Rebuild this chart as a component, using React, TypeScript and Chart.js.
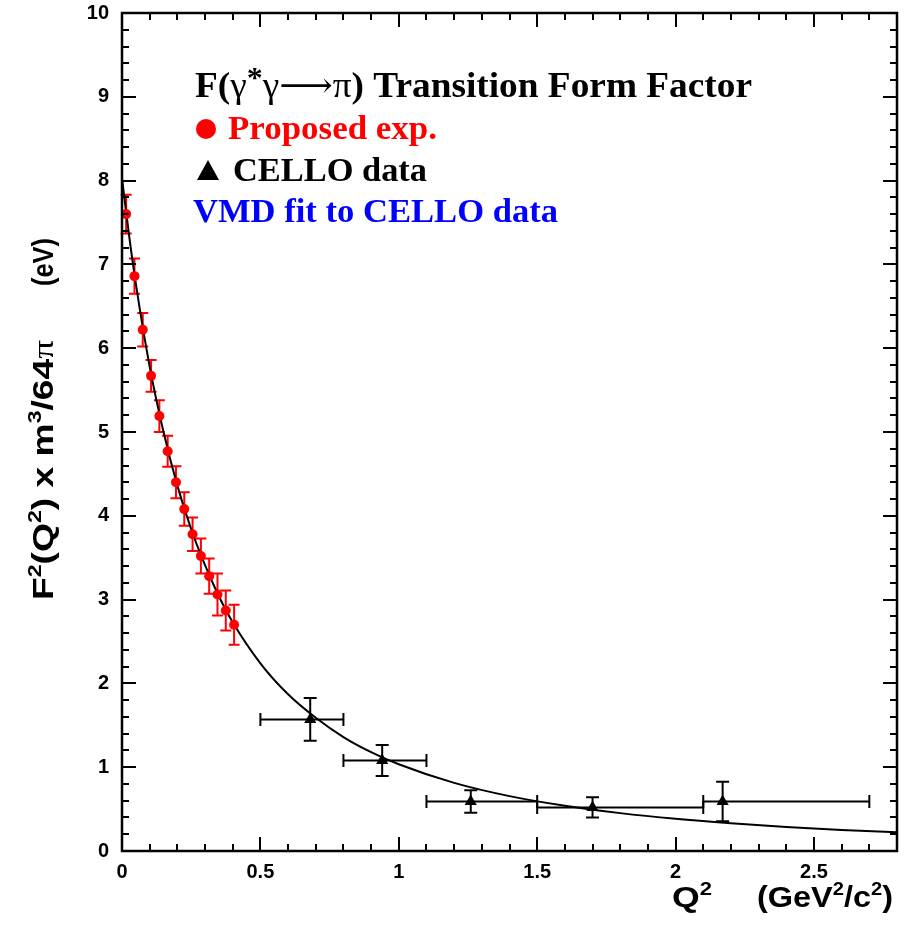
import React, { useEffect, useRef } from "react";
import { Chart, registerables } from "chart.js";

Chart.register(...registerables);

// ---- data ----
const redQ2 = [0.015, 0.045, 0.075, 0.105, 0.135, 0.165, 0.195, 0.225, 0.255, 0.285, 0.315, 0.345, 0.375, 0.405];
const redF2 = [7.6, 6.86, 6.22, 5.67, 5.19, 4.77, 4.4, 4.08, 3.78, 3.52, 3.28, 3.06, 2.87, 2.7];
const redErr = [0.23, 0.21, 0.2, 0.19, 0.19, 0.185, 0.19, 0.2, 0.2, 0.21, 0.21, 0.25, 0.24, 0.24];

const celloQ2 = [0.68, 0.94, 1.26, 1.7, 2.17];
const celloF2 = [1.57, 1.08, 0.59, 0.52, 0.59];
const celloErr = [0.255, 0.185, 0.135, 0.12, 0.235];
const celloQ2Low = [0.5, 0.8, 1.1, 1.5, 2.1];
const celloQ2High = [0.8, 1.1, 1.5, 2.1, 2.7];

const fitQ2 = [0, 0.025, 0.05, 0.1, 0.15, 0.2, 0.25, 0.3, 0.35, 0.4, 0.5, 0.6, 0.7, 0.8, 0.9, 1.0, 1.2, 1.4, 1.6, 1.8, 2.0, 2.2, 2.4, 2.6, 2.8];
const fitF2 = [8.03, 7.36, 6.77, 5.78, 5.0, 4.36, 3.84, 3.41, 3.04, 2.73, 2.24, 1.87, 1.59, 1.36, 1.18, 1.035, 0.813, 0.655, 0.54, 0.452, 0.384, 0.331, 0.287, 0.252, 0.223];

const xMin = 0;
const xMax = 2.8;
const yMin = 0;
const yMax = 10;
const xMajorStep = 0.5;
const xMinorStep = 0.1;
const yMajorStep = 1;
const yMinorStep = 0.2;

const RED = "#ff0000";
const BLUE = "#0000ff";
const SANS = "'Liberation Sans', Arial, sans-serif";
const SERIF = "'Liberation Serif', 'Times New Roman', serif";

type Seg = { t: string; sup?: boolean; family?: string; weight?: string; color?: string; supScale?: number; raise?: number };

function drawRich(
  ctx: CanvasRenderingContext2D,
  segs: Seg[],
  size: number,
  family: string,
  color: string,
  targetWidth?: number
) {
  const fontFor = (s: Seg) => {
    const sz = s.sup ? Math.round(size * (s.supScale ?? 0.62)) : size;
    return `${s.weight ?? "bold"} ${sz}px ${s.family ?? family}`;
  };
  const widths = segs.map((s) => {
    ctx.font = fontFor(s);
    return ctx.measureText(s.t).width;
  });
  const total = widths.reduce((a, b) => a + b, 0);
  const sx = targetWidth ? targetWidth / total : 1;
  ctx.save();
  ctx.scale(sx, 1);
  ctx.textBaseline = "alphabetic";
  ctx.textAlign = "left";
  let cx = 0;
  segs.forEach((s, i) => {
    ctx.font = fontFor(s);
    ctx.fillStyle = s.color ?? color;
    ctx.fillText(s.t, cx, s.sup ? -size * (s.raise ?? 0.42) : 0);
    cx += widths[i];
  });
  ctx.restore();
}

const errorBarPlugin = {
  id: "errorBars",
  beforeDatasetsDraw(chart: any) {
    const { ctx, scales } = chart;
    const xs = scales.x;
    const ys = scales.y;
    ctx.save();
    ctx.strokeStyle = RED;
    ctx.lineWidth = 2;
    redQ2.forEach((q, i) => {
      const px = xs.getPixelForValue(q);
      const y1 = ys.getPixelForValue(redF2[i] - redErr[i]);
      const y2 = ys.getPixelForValue(redF2[i] + redErr[i]);
      ctx.beginPath();
      ctx.moveTo(px, y1);
      ctx.lineTo(px, y2);
      ctx.moveTo(px - 5.5, y1);
      ctx.lineTo(px + 5.5, y1);
      ctx.moveTo(px - 5.5, y2);
      ctx.lineTo(px + 5.5, y2);
      ctx.stroke();
    });
    ctx.strokeStyle = "#000";
    ctx.lineWidth = 2;
    celloQ2.forEach((q, i) => {
      const px = xs.getPixelForValue(q);
      const py = ys.getPixelForValue(celloF2[i]);
      const y1 = ys.getPixelForValue(celloF2[i] - celloErr[i]);
      const y2 = ys.getPixelForValue(celloF2[i] + celloErr[i]);
      const x1 = xs.getPixelForValue(celloQ2Low[i]);
      const x2 = xs.getPixelForValue(celloQ2High[i]);
      ctx.beginPath();
      ctx.moveTo(px, y1);
      ctx.lineTo(px, y2);
      ctx.moveTo(px - 6.5, y1);
      ctx.lineTo(px + 6.5, y1);
      ctx.moveTo(px - 6.5, y2);
      ctx.lineTo(px + 6.5, y2);
      ctx.moveTo(x1, py);
      ctx.lineTo(x2, py);
      ctx.moveTo(x1, py - 6.5);
      ctx.lineTo(x1, py + 6.5);
      ctx.moveTo(x2, py - 6.5);
      ctx.lineTo(x2, py + 6.5);
      ctx.stroke();
    });
    ctx.restore();
  },
};

const framePlugin = {
  id: "frameTicks",
  afterDraw(chart: any) {
    const { ctx, chartArea, scales } = chart;
    const xs = scales.x;
    const ys = scales.y;
    const { left, right, top, bottom } = chartArea;
    ctx.save();
    ctx.strokeStyle = "#000";
    ctx.lineWidth = 2;
    ctx.beginPath();
    const nx = Math.round((xMax - xMin) / xMinorStep);
    for (let i = 0; i <= nx; i++) {
      const v = xMin + i * xMinorStep;
      const major = Math.abs(v / xMajorStep - Math.round(v / xMajorStep)) < 1e-6;
      const len = major ? 14 : 7;
      const px = Math.round(xs.getPixelForValue(v));
      ctx.moveTo(px, bottom);
      ctx.lineTo(px, bottom - len);
      ctx.moveTo(px, top);
      ctx.lineTo(px, top + len);
    }
    const ny = Math.round((yMax - yMin) / yMinorStep);
    for (let i = 0; i <= ny; i++) {
      const v = yMin + i * yMinorStep;
      const major = Math.abs(v / yMajorStep - Math.round(v / yMajorStep)) < 1e-6;
      const len = major ? 14 : 7;
      const py = Math.round(ys.getPixelForValue(v));
      ctx.moveTo(left, py);
      ctx.lineTo(left + len, py);
      ctx.moveTo(right, py);
      ctx.lineTo(right - len, py);
    }
    ctx.stroke();
    ctx.lineWidth = 2.5;
    ctx.strokeRect(left, top, right - left, bottom - top);
    ctx.restore();

    // ---- legend / title text ----
    ctx.save();
    ctx.translate(195, 97);
    drawRich(
      ctx,
      [
        { t: "F(" },
        { t: "γ", weight: "normal" },
        { t: "*", sup: true, supScale: 0.85, raise: 0.3 },
        { t: "γ", weight: "normal" },
        { t: "⟶", weight: "normal", family: "'DejaVu Serif', serif" },
        { t: "π", weight: "normal" },
        { t: ") Transition Form Factor" },
      ],
      35,
      SERIF,
      "#000",
      557
    );
    ctx.restore();

    ctx.save();
    ctx.fillStyle = RED;
    ctx.beginPath();
    ctx.arc(206, 129, 10, 0, Math.PI * 2);
    ctx.fill();
    ctx.translate(228, 139);
    drawRich(ctx, [{ t: "Proposed exp." }], 34, SERIF, RED, 209);
    ctx.restore();

    ctx.save();
    ctx.fillStyle = "#000";
    ctx.beginPath();
    ctx.moveTo(208, 160);
    ctx.lineTo(219, 180);
    ctx.lineTo(197, 180);
    ctx.closePath();
    ctx.fill();
    ctx.translate(233, 181);
    drawRich(ctx, [{ t: "CELLO data" }], 34, SERIF, "#000", 194);
    ctx.restore();

    ctx.save();
    ctx.translate(193, 222);
    drawRich(ctx, [{ t: "VMD fit to CELLO data" }], 34, SERIF, BLUE, 365);
    ctx.restore();

    // ---- axis titles ----
    ctx.save();
    ctx.translate(672, 907);
    drawRich(ctx, [{ t: "Q" }, { t: "2", sup: true }], 29, SANS, "#000", 40);
    ctx.restore();
    ctx.save();
    ctx.translate(757, 907);
    drawRich(
      ctx,
      [{ t: "(GeV" }, { t: "2", sup: true }, { t: "/c" }, { t: "2", sup: true }, { t: ")" }],
      29,
      SANS,
      "#000",
      136
    );
    ctx.restore();

    ctx.save();
    ctx.translate(53, 600);
    ctx.rotate(-Math.PI / 2);
    drawRich(
      ctx,
      [
        { t: "F" },
        { t: "2", sup: true },
        { t: "(Q" },
        { t: "2", sup: true },
        { t: ") x m" },
        { t: "3", sup: true },
        { t: "/64" },
        { t: "π", family: SERIF, weight: "normal" },
      ],
      29,
      SANS,
      "#000",
      260
    );
    ctx.restore();
    ctx.save();
    ctx.translate(53, 286);
    ctx.rotate(-Math.PI / 2);
    drawRich(ctx, [{ t: "(eV)" }], 29, SANS, "#000", 48);
    ctx.restore();
  },
};

const fmt = (v: number) => String(Math.round(v * 10) / 10);

export default function App() {
  const canvasRef = useRef<HTMLCanvasElement | null>(null);

  useEffect(() => {
    const canvas = canvasRef.current;
    if (!canvas) return;
    const chart = new Chart(canvas, {
      type: "scatter",
      data: {
        datasets: [
          {
            label: "Proposed exp.",
            data: redQ2.map((q, i) => ({ x: q, y: redF2[i] })),
            pointStyle: "circle",
            pointRadius: 5,
            pointBackgroundColor: RED,
            pointBorderColor: RED,
            pointBorderWidth: 0,
            order: 1,
          },
          {
            label: "CELLO data",
            data: celloQ2.map((q, i) => ({ x: q, y: celloF2[i] })),
            pointStyle: "triangle",
            pointRadius: 7,
            pointBackgroundColor: "#000",
            pointBorderColor: "#000",
            pointBorderWidth: 0,
            order: 2,
          },
          {
            label: "VMD fit to CELLO data",
            data: fitQ2.map((q, i) => ({ x: q, y: fitF2[i] })),
            showLine: true,
            borderColor: "#000",
            borderWidth: 2,
            pointRadius: 0,
            cubicInterpolationMode: "monotone",
            order: 3,
          } as any,
        ],
      },
      options: {
        responsive: false,
        animation: false,
        devicePixelRatio: 1,
        layout: { padding: { top: 13, right: 10, bottom: 0, left: 0 } },
        plugins: {
          legend: { display: false },
          tooltip: { enabled: false },
          title: { display: false },
        },
        scales: {
          x: {
            type: "linear",
            min: xMin,
            max: xMax,
            grid: { display: false, drawTicks: false },
            border: { display: false },
            ticks: {
              stepSize: xMajorStep,
              includeBounds: false,
              color: "#000",
              padding: 9,
              maxRotation: 0,
              callback: (v: any) => fmt(Number(v)),
              font: { family: SANS, size: 20, weight: "bold" },
            },
            afterFit: (scale: any) => {
              scale.height = 75;
              scale.paddingLeft = 0;
              scale.paddingRight = 0;
            },
          },
          y: {
            type: "linear",
            min: yMin,
            max: yMax,
            grid: { display: false, drawTicks: false },
            border: { display: false },
            ticks: {
              stepSize: yMajorStep,
              color: "#000",
              padding: 13,
              callback: (v: any) => fmt(Number(v)),
              font: { family: SANS, size: 20, weight: "bold" },
            },
            afterFit: (scale: any) => {
              scale.width = 122;
              scale.paddingTop = 0;
              scale.paddingBottom = 0;
            },
          },
        },
      } as any,
      plugins: [errorBarPlugin, framePlugin],
    });
    return () => chart.destroy();
  }, []);

  return (
    <div style={{ position: "fixed", left: 0, top: 0, width: 907, height: 926, background: "#fff" }}>
      <canvas ref={canvasRef} width={907} height={926} style={{ display: "block" }} />
    </div>
  );
}
